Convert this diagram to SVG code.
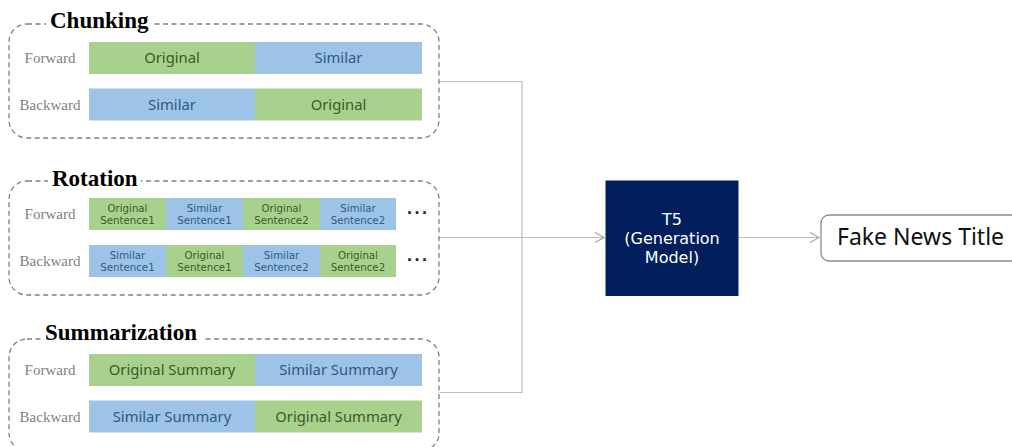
<svg xmlns="http://www.w3.org/2000/svg" width="1012" height="447" viewBox="0 0 1012 447">
  <defs>
    <style>
      .group { fill: none; stroke: #808080; stroke-width: 1.3; stroke-dasharray: 5 3.5; }
      .gtitle { font-family: "Liberation Serif", serif; font-weight: bold; font-size: 23px; fill: #000; }
      .dir { font-family: "Liberation Serif", serif; font-size: 15px; fill: #7f7f7f; text-anchor: middle; }
      .g { fill: #a9d18e; }
      .b { fill: #9dc3e6; }
      .tg { font-family: "Noto Sans", sans-serif; font-size: 14.8px; fill: #3a5a2a; text-anchor: middle; }
      .tb { font-family: "Noto Sans", sans-serif; font-size: 14.8px; fill: #2f5a88; text-anchor: middle; }
      .sg { font-family: "DejaVu Sans", sans-serif; font-size: 10.2px; fill: #3a5a2a; text-anchor: middle; }
      .sb { font-family: "DejaVu Sans", sans-serif; font-size: 10.2px; fill: #2f5a88; text-anchor: middle; }
      .dots { font-family: "Liberation Sans", sans-serif; font-size: 18px; font-weight: bold; fill: #222; letter-spacing: 1.5px; }
      .conn { fill: none; stroke: #bfbfbf; stroke-width: 1.2; }
      .model { font-family: "DejaVu Sans", sans-serif; font-size: 16px; fill: #fff; text-anchor: middle; }
    </style>
    <marker id="arrow" markerWidth="12" markerHeight="12" refX="10" refY="6" orient="auto" markerUnits="userSpaceOnUse">
      <path d="M1,1 L10,6 L1,11" fill="none" stroke="#a6a6a6" stroke-width="1.2"/>
    </marker>
  </defs>

  <rect width="1012" height="447" fill="#fff"/>

  <!-- connectors -->
  <g id="connectors">
    <path class="conn" d="M439,81.5 H522 V392.5 H439"/>
    <line class="conn" x1="439" y1="237.5" x2="604" y2="237.5" marker-end="url(#arrow)"/>
    <line class="conn" x1="738" y1="237.5" x2="819" y2="237.5" marker-end="url(#arrow)"/>
  </g>

  <!-- Chunking -->
  <g id="chunking">
    <rect class="group" x="9" y="24" width="430" height="114" rx="18"/>
    <rect x="46" y="10" width="107" height="26" fill="#fff"/>
    <text class="gtitle" x="50" y="28">Chunking</text>
    <text class="dir" x="50" y="63">Forward</text>
    <text class="dir" x="50" y="110">Backward</text>
    <rect class="g" x="89" y="42" width="166" height="32"/>
    <rect class="b" x="255" y="42" width="167" height="32"/>
    <text class="tg" x="172" y="63">Original</text>
    <text class="tb" x="338.5" y="63">Similar</text>
    <rect class="b" x="89" y="88.5" width="166" height="32"/>
    <rect class="g" x="255" y="88.5" width="167" height="32"/>
    <text class="tb" x="172" y="109.5">Similar</text>
    <text class="tg" x="338.5" y="109.5">Original</text>
  </g>

  <!-- Rotation -->
  <g id="rotation">
    <rect class="group" x="9" y="181" width="430" height="114" rx="18"/>
    <rect x="48" y="166" width="93" height="26" fill="#fff"/>
    <text class="gtitle" x="52" y="186">Rotation</text>
    <text class="dir" x="50" y="219">Forward</text>
    <text class="dir" x="50" y="266">Backward</text>

    <rect class="g" x="89" y="198" width="77" height="32"/>
    <rect class="b" x="166" y="198" width="77" height="32"/>
    <rect class="g" x="243" y="198" width="77" height="32"/>
    <rect class="b" x="320" y="198" width="76" height="32"/>
    <text class="sg" x="127.5" y="211.5">Original</text>
    <text class="sg" x="127.5" y="224.2">Sentence1</text>
    <text class="sb" x="204.5" y="211.5">Similar</text>
    <text class="sb" x="204.5" y="224.2">Sentence1</text>
    <text class="sg" x="281.5" y="211.5">Original</text>
    <text class="sg" x="281.5" y="224.2">Sentence2</text>
    <text class="sb" x="358" y="211.5">Similar</text>
    <text class="sb" x="358" y="224.2">Sentence2</text>
    <text class="dots" x="407" y="219">···</text>

    <rect class="b" x="89" y="245" width="77" height="32"/>
    <rect class="g" x="166" y="245" width="77" height="32"/>
    <rect class="b" x="243" y="245" width="77" height="32"/>
    <rect class="g" x="320" y="245" width="76" height="32"/>
    <text class="sb" x="127.5" y="258.5">Similar</text>
    <text class="sb" x="127.5" y="271.2">Sentence1</text>
    <text class="sg" x="204.5" y="258.5">Original</text>
    <text class="sg" x="204.5" y="271.2">Sentence1</text>
    <text class="sb" x="281.5" y="258.5">Similar</text>
    <text class="sb" x="281.5" y="271.2">Sentence2</text>
    <text class="sg" x="358" y="258.5">Original</text>
    <text class="sg" x="358" y="271.2">Sentence2</text>
    <text class="dots" x="407" y="266">···</text>
  </g>

  <!-- Summarization -->
  <g id="summarization">
    <rect class="group" x="9" y="339" width="430" height="112" rx="18"/>
    <rect x="41" y="321" width="161" height="27" fill="#fff"/>
    <text class="gtitle" x="45" y="340">Summarization</text>
    <text class="dir" x="50" y="375">Forward</text>
    <text class="dir" x="50" y="422">Backward</text>
    <rect class="g" x="89" y="354" width="166" height="32"/>
    <rect class="b" x="255" y="354" width="167" height="32"/>
    <text class="tg" x="172" y="375">Original Summary</text>
    <text class="tb" x="338.5" y="375">Similar Summary</text>
    <rect class="b" x="89" y="400.5" width="166" height="32"/>
    <rect class="g" x="255" y="400.5" width="167" height="32"/>
    <text class="tb" x="172" y="421.5">Similar Summary</text>
    <text class="tg" x="338.5" y="421.5">Original Summary</text>
  </g>

  <!-- T5 model -->
  <g id="t5">
    <rect x="605.5" y="180.5" width="133" height="115.5" fill="#001f5c"/>
    <text class="model" x="672" y="225">T5</text>
    <text class="model" x="672" y="244.2">(Generation</text>
    <text class="model" x="672" y="263.4">Model)</text>
  </g>

  <!-- output -->
  <g id="fake-news-title">
    <rect x="821" y="215" width="200" height="46" rx="8" fill="#fff" stroke="#8c8c8c" stroke-width="1.3"/>
    <text x="837" y="245" font-family="Noto Sans, sans-serif" font-size="23" fill="#111">Fake News Title</text>
  </g>
</svg>
